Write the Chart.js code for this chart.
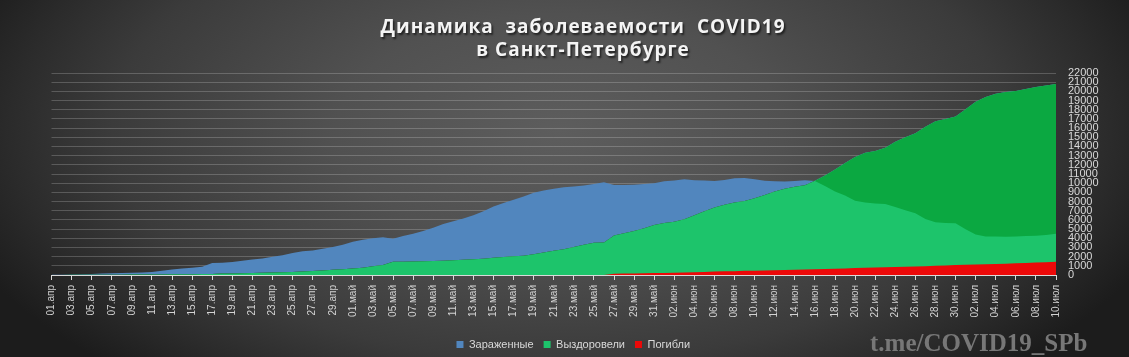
<!DOCTYPE html>
<html><head><meta charset="utf-8">
<script src="https://cdn.jsdelivr.net/npm/chart.js@4/dist/chart.umd.min.js"></script>
<style>html,body{margin:0;padding:0;background:#2a2a2a;overflow:hidden}</style>
</head><body><canvas id="c" width="1129" height="357"></canvas>
<script>
const titleLines = ['Динамика  заболеваемости  COVID19', 'в Санкт-Петербурге'];
const watermark = 't.me/COVID19_SPb';
const seriesNames = ['Зараженные', 'Выздоровели', 'Погибли'];
const categories = [
 '01.апр','02.апр','03.апр','04.апр','05.апр','06.апр','07.апр','08.апр','09.апр','10.апр',
 '11.апр','12.апр','13.апр','14.апр','15.апр','16.апр','17.апр','18.апр','19.апр','20.апр',
 '21.апр','22.апр','23.апр','24.апр','25.апр','26.апр','27.апр','28.апр','29.апр','30.апр',
 '01.май','02.май','03.май','04.май','05.май','06.май','07.май','08.май','09.май','10.май',
 '11.май','12.май','13.май','14.май','15.май','16.май','17.май','18.май','19.май','20.май',
 '21.май','22.май','23.май','24.май','25.май','26.май','27.май','28.май','29.май','30.май',
 '31.май','01.июн','02.июн','03.июн','04.июн','05.июн','06.июн','07.июн','08.июн','09.июн',
 '10.июн','11.июн','12.июн','13.июн','14.июн','15.июн','16.июн','17.июн','18.июн','19.июн',
 '20.июн','21.июн','22.июн','23.июн','24.июн','25.июн','26.июн','27.июн','28.июн','29.июн',
 '30.июн','01.июл','02.июл','03.июл','04.июл','05.июл','06.июл','07.июл','08.июл','09.июл',
 '10.июл'];
const infected = [
 20,30,50,90,120,160,200,220,240,270,
 330,450,600,700,780,900,1300,1330,1420,1550,
 1680,1800,1980,2150,2400,2580,2680,2850,3050,3300,
 3620,3830,4000,4100,3950,4250,4500,4800,5150,5560,
 5850,6150,6500,6950,7450,7850,8200,8550,8950,9200,
 9400,9550,9650,9750,9900,10100,9800,9800,9830,9900,
 10000,10200,10300,10420,10330,10280,10240,10350,10550,10570,
 10420,10270,10200,10170,10250,10330,10250,9700,9100,8650,
 8080,7900,7800,7720,7400,7050,6720,6100,5750,5650,
 5630,4970,4400,4200,4180,4170,4200,4240,4270,4350,
 4480];
const recovered = [
 10,10,15,20,25,30,35,40,45,50,
 55,60,70,80,90,100,110,150,170,190,
 220,250,280,310,340,380,430,500,560,620,
 700,780,950,1100,1450,1450,1460,1490,1520,1560,
 1600,1650,1720,1780,1880,1960,2030,2090,2250,2450,
 2650,2800,3050,3300,3500,3530,4300,4550,4790,5100,
 5450,5650,5800,6060,6500,6950,7350,7650,7900,8060,
 8350,8700,9100,9400,9600,9780,10260,10850,11500,12200,
 12850,13320,13500,13850,14500,15000,15450,16150,16750,16980,
 17250,18050,18880,19380,19750,19930,20040,20260,20480,20650,
 20810];
const deaths = [
 0,0,0,0,0,0,0,0,0,0,
 0,0,0,0,0,0,0,0,0,0,
 0,0,0,0,0,0,0,0,0,0,
 0,0,0,0,0,0,0,0,0,0,
 0,0,0,0,0,0,0,0,0,0,
 0,0,0,0,0,0,130,150,170,190,
 210,230,250,270,300,330,370,400,420,450,
 470,490,520,540,570,600,620,650,680,720,
 750,780,810,840,870,900,930,960,1000,1040,
 1090,1110,1140,1180,1200,1230,1270,1310,1350,1390,
 1430];
const yMin = 0, yMax = 22000, yStep = 1000;

const BLUE = '#5186be', LIGHT_GREEN = '#1dc46b', DARK_GREEN = '#0ba841', RED = '#ec0909';

const bgPlugin = {
  id: 'bg',
  beforeDraw(chart) {
    const {ctx, width, height} = chart;
    const cx = 560, cy = 130, rx = 640, ry = 330, k = ry / rx;
    ctx.save();
    ctx.translate(cx, cy); ctx.scale(1, k);
    const g = ctx.createRadialGradient(0, 0, 0, 0, 0, rx);
    g.addColorStop(0, '#5d5d5d');
    g.addColorStop(0.35, '#515151');
    g.addColorStop(0.7, '#3b3b3b');
    g.addColorStop(0.86, '#2b2b2b');
    g.addColorStop(1, '#1c1c1c');
    ctx.fillStyle = g;
    ctx.fillRect(-cx, -cy / k, width, height / k);
    ctx.restore();
  },
  afterLayout(chart) {
    const lg = chart.legend;
    if (lg) { lg.top += 3; lg.bottom += 3; lg.left -= 17; lg.right -= 17; }
  },
  afterDraw(chart) {
    const ctx = chart.ctx;
    ctx.save();
    ctx.font = 'bold 19px "Open Sans"';
    ctx.textAlign = 'center'; ctx.textBaseline = 'middle';
    try { ctx.letterSpacing = '1px'; } catch (e) {}
    ctx.shadowColor = 'rgba(0,0,0,0.6)'; ctx.shadowOffsetX = 1.5; ctx.shadowOffsetY = 1.5; ctx.shadowBlur = 2;
    ctx.fillStyle = '#f4f4f4';
    ctx.fillText(titleLines[0], 583, 28);
    ctx.fillText(titleLines[1], 583, 51);
    ctx.restore();
    ctx.save();
    ctx.font = 'bold 25px "Liberation Serif"';
    ctx.textAlign = 'left'; ctx.textBaseline = 'alphabetic';
    ctx.fillStyle = '#777777';
    ctx.fillText(watermark, 870, 351);
    ctx.restore();
  }
};

new Chart(document.getElementById('c'), {
  type: 'line',
  data: {
    labels: categories,
    datasets: [
      { label: seriesNames[0], data: infected, backgroundColor: BLUE, borderColor: BLUE, borderWidth: 0,
        pointRadius: 0, tension: 0, order: 2, fill: { target: 1, above: BLUE, below: DARK_GREEN } },
      { label: seriesNames[1], data: recovered, backgroundColor: LIGHT_GREEN, borderColor: LIGHT_GREEN, borderWidth: 0,
        pointRadius: 0, tension: 0, order: 3, fill: 'origin' },
      { label: seriesNames[2], data: deaths, backgroundColor: RED, borderColor: RED, borderWidth: 0,
        pointRadius: 0, tension: 0, order: 1, fill: 'origin' }
    ]
  },
  options: {
    responsive: false, animation: false, devicePixelRatio: 1,
    layout: { padding: { left: 51.5, right: 0, top: 73, bottom: 0 } },
    plugins: {
      title: { display: false },
      tooltip: { enabled: false },
      legend: {
        position: 'bottom',
        labels: {
          color: '#d9d9d9', font: { family: '"Liberation Sans", Arial, sans-serif', size: 11 },
          boxWidth: 7, boxHeight: 7, padding: 10,
          sort: (a, b) => a.datasetIndex - b.datasetIndex
        }
      }
    },
    scales: {
      x: {
        type: 'category',
        afterFit(s) { s.height = 51; },
        border: { display: true, color: '#d9d9d9', width: 1 },
        grid: { drawOnChartArea: false, drawTicks: true, tickLength: 5,
                color: c => (c.index % 2 === 0 ? '#d9d9d9' : 'rgba(0,0,0,0)') },
        ticks: {
          autoSkip: false, maxRotation: 90, minRotation: 90, padding: 5,
          color: '#d4d4d4', font: { family: '"Liberation Sans Narrow", "Liberation Sans", sans-serif', size: 10 },
          callback: function (v, i) { return i % 2 === 0 ? this.getLabelForValue(v) : ''; }
        }
      },
      y: {
        position: 'right', min: yMin, max: yMax,
        afterFit(s) { s.width = 73; },
        border: { display: false },
        grid: { color: 'rgba(255,255,255,0.2)', drawTicks: false, lineWidth: 1 },
        ticks: {
          stepSize: yStep, autoSkip: false, padding: 12, crossAlign: 'near',
          color: '#d9d9d9', font: { family: '"Liberation Sans", Arial, sans-serif', size: 11 },
          callback: v => String(v)
        }
      }
    }
  },
  plugins: [bgPlugin]
});
</script></body></html>
